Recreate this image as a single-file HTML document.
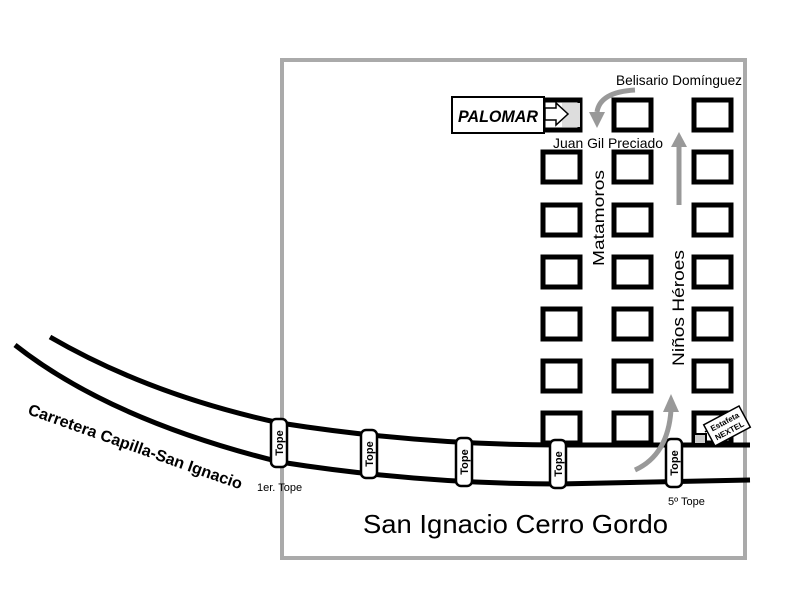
<!DOCTYPE html>
<html><head><meta charset="utf-8"><style>html,body{margin:0;padding:0;background:#fff}svg{display:block}</style></head>
<body>
<svg width="800" height="600" viewBox="0 0 800 600" xmlns="http://www.w3.org/2000/svg" font-family="Liberation Sans, sans-serif">
<rect x="0" y="0" width="800" height="600" fill="#fff"/>
<rect x="282" y="60" width="463" height="498" fill="none" stroke="#aaa" stroke-width="4"/>
<g fill="#fff" stroke="#000" stroke-width="5">
<g id="c1">
<rect x="543" y="100" width="37" height="30"/>
<rect x="543" y="152" width="37" height="30"/>
<rect x="543" y="205" width="37" height="30"/>
<rect x="543" y="257" width="37" height="30"/>
<rect x="543" y="309" width="37" height="30"/>
<rect x="543" y="361" width="37" height="30"/>
<rect x="543" y="413" width="37" height="30"/>
</g>
<use href="#c1" x="71"/>
<use href="#c1" x="151"/>
</g>
<path d="M562 103 H580 V127 H562 Z" fill="#ddd" stroke="none"/>
<path d="M50 337 Q150 395 280 423 Q420 445 558 445 L750 445" fill="none" stroke="#000" stroke-width="5"/>
<path d="M15 345 Q110 420 280 462 Q420 484 558 484 L750 480" fill="none" stroke="#000" stroke-width="5"/>
<g font-size="11" font-weight="bold" text-anchor="middle">
<g transform="translate(279,443)"><rect x="-8" y="-24" width="16" height="48" rx="5" fill="#fff" stroke="#000" stroke-width="2.5"/><text transform="rotate(-90)" y="4">Tope</text></g>
<g transform="translate(369,454)"><rect x="-8" y="-24" width="16" height="48" rx="5" fill="#fff" stroke="#000" stroke-width="2.5"/><text transform="rotate(-90)" y="4">Tope</text></g>
<g transform="translate(464,462)"><rect x="-8" y="-24" width="16" height="48" rx="5" fill="#fff" stroke="#000" stroke-width="2.5"/><text transform="rotate(-90)" y="4">Tope</text></g>
<g transform="translate(558,464)"><rect x="-8" y="-24" width="16" height="48" rx="5" fill="#fff" stroke="#000" stroke-width="2.5"/><text transform="rotate(-90)" y="4">Tope</text></g>
<g transform="translate(674,463)"><rect x="-8" y="-24" width="16" height="48" rx="5" fill="#fff" stroke="#000" stroke-width="2.5"/><text transform="rotate(-90)" y="4">Tope</text></g>
</g>
<g fill="none" stroke="#999" stroke-width="5">
<path d="M635 470 Q668 455 671 410"/>
<path d="M679 205 V145"/>
<path d="M635 90 Q600 92 597 112"/>
</g>
<g fill="#999">
<path d="M663 412 L671 394 L679 412 Z"/>
<path d="M671 147 L679 132 L687 147 Z"/>
<path d="M589 112 L597 128 L605 112 Z"/>
</g>
<rect x="452" y="97" width="92" height="36" fill="#fff" stroke="#000" stroke-width="2"/>
<text x="458" y="122" font-size="17" font-weight="bold" font-style="italic" textLength="80" lengthAdjust="spacingAndGlyphs">PALOMAR</text>
<path d="M545 108 H556 V103 L568 114 L556 125 V120 H545 Z" fill="#fff" stroke="#000" stroke-width="1.5"/>
<path d="M705 432 L712 427 L716 431" fill="none" stroke="#000" stroke-width="1.5"/>
<rect x="694" y="434" width="12" height="10" fill="#ccc" stroke="#000" stroke-width="2"/>
<g transform="translate(727,426) rotate(-28)">
<rect x="-20" y="-12" width="40" height="24" fill="#fff" stroke="#000" stroke-width="1.5"/>
<text x="0" y="-2" font-size="8" font-weight="bold" text-anchor="middle">Estafeta</text>
<text x="0" y="8" font-size="8" font-weight="bold" text-anchor="middle">NEXTEL</text>
</g>
<text x="616" y="85" font-size="14" textLength="126" lengthAdjust="spacingAndGlyphs">Belisario Domínguez</text>
<text x="553" y="148" font-size="14" textLength="110" lengthAdjust="spacingAndGlyphs">Juan Gil Preciado</text>
<text transform="translate(604,266) rotate(-90)" font-size="16" textLength="96" lengthAdjust="spacingAndGlyphs">Matamoros</text>
<text transform="translate(684,366) rotate(-90)" font-size="17" textLength="116" lengthAdjust="spacingAndGlyphs">Niños Héroes</text>
<text transform="translate(27,414) rotate(19.5)" font-size="16" font-weight="bold" textLength="226" lengthAdjust="spacingAndGlyphs">Carretera Capilla-San Ignacio</text>
<text x="257" y="491" font-size="11">1er. Tope</text>
<text x="668" y="505" font-size="11">5º Tope</text>
<text x="363" y="533" font-size="26" textLength="305" lengthAdjust="spacingAndGlyphs">San Ignacio Cerro Gordo</text>
</svg>
</body></html>
